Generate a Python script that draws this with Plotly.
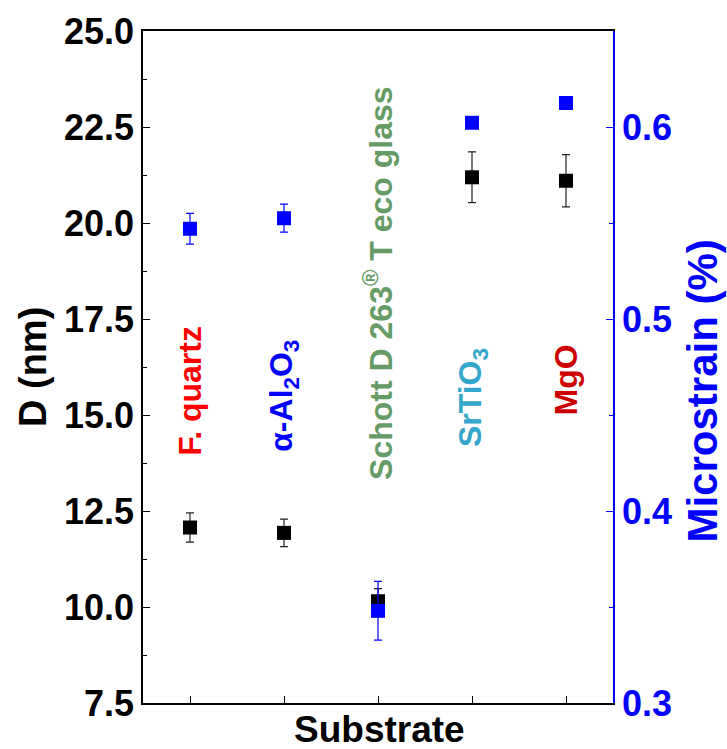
import plotly.graph_objects as go

# Substrates (x positions 1..5) and their label styling
substrates = ["F. quartz", "α-Al<sub>2</sub>O<sub>3</sub>",
              "Schott D 263<sup>®</sup> T eco glass", "SrTiO<sub>3</sub>", "MgO"]
label_colors = ["#FF0000", "#0000FF", "#659B65", "#33A6CC", "#CC0000"]
label_y = [15.63, 15.5, 18.44, 15.44, 15.9]
x_pos = [1, 2, 3, 4, 5]

# Crystallite size D (nm) with errors
D_nm = [12.07, 11.93, 10.15, 21.19, 21.10]
D_err = [0.38, 0.36, 0.33, 0.66, 0.68]

# Microstrain (%) with errors
strain = [0.547, 0.5525, 0.348, 0.6022, 0.6125]
strain_err = [0.008, 0.0073, 0.0153, 0.0015, 0.002]

FONT = "Liberation Sans, Arial, sans-serif"

fig = go.Figure()
fig.add_trace(go.Scatter(
    x=x_pos, y=D_nm, mode="markers", yaxis="y",
    marker=dict(symbol="square", size=14, color="black", line=dict(width=0)),
    error_y=dict(type="data", array=D_err, color="#222222", thickness=1.2, width=4),
    showlegend=False,
))
fig.add_trace(go.Scatter(
    x=x_pos, y=strain, mode="markers", yaxis="y2",
    marker=dict(symbol="square", size=14, color="#0000FF", line=dict(width=0)),
    error_y=dict(type="data", array=strain_err, color="#0000FF", thickness=1.2, width=4),
    showlegend=False,
))

annotations = []
for xi, name, col, yi in zip(x_pos, substrates, label_colors, label_y):
    annotations.append(dict(
        x=xi, y=yi, xref="x", yref="y", text=name, showarrow=False,
        textangle=-90, xanchor="center", yanchor="middle",
        font=dict(family=FONT, size=32, color=col, weight="bold"),
    ))

annotations += [
    dict(x=-0.234, y=0.5, xref="paper", yref="paper", text="D (nm)", showarrow=False,
         textangle=-90, xanchor="center", yanchor="middle",
         font=dict(family=FONT, size=38, color="black", weight="bold")),
    dict(x=1.1915, y=0.4635, xref="paper", yref="paper", text="Microstrain (%)", showarrow=False,
         textangle=-90, xanchor="center", yanchor="middle",
         font=dict(family=FONT, size=42, color="#0000FF", weight="bold")),
    dict(x=0.504, y=-0.039, xref="paper", yref="paper", text="Substrate", showarrow=False,
         xanchor="center", yanchor="middle",
         font=dict(family=FONT, size=37, color="black", weight="bold")),
]

fig.update_layout(
    width=727, height=749,
    margin=dict(l=143, r=114, t=31, b=46),
    plot_bgcolor="white", paper_bgcolor="white",
    annotations=annotations,
    xaxis=dict(
        range=[0.5, 5.5], tickvals=x_pos, showticklabels=False,
        ticks="inside", ticklen=7, tickcolor="black", tickwidth=1.3,
        showline=True, linecolor="black", linewidth=1.5, mirror=True,
        showgrid=False, zeroline=False,
    ),
    yaxis=dict(
        range=[7.5, 25], dtick=2.5, tick0=7.5, tickformat=".1f",
        ticks="inside", ticklen=7, tickcolor="black", tickwidth=1.3,
        minor=dict(dtick=1.25, ticks="inside", ticklen=4, tickcolor="black"),
        showline=True, linecolor="black", linewidth=1.5,
        showgrid=False, zeroline=False,
        tickfont=dict(family=FONT, size=36, color="black", weight="bold"),
    ),
    yaxis2=dict(
        range=[0.3, 0.65], dtick=0.1, tick0=0.3, tickformat=".1f",
        overlaying="y", side="right", anchor="x",
        ticks="inside", ticklen=7, tickcolor="#0000FF", tickwidth=1.3,
        minor=dict(dtick=0.05, ticks="inside", ticklen=4, tickcolor="#0000FF"),
        showline=True, linecolor="#0000FF", linewidth=1.5,
        showgrid=False, zeroline=False,
        tickfont=dict(family=FONT, size=36, color="#0000FF", weight="bold"),
    ),
)

fig.write_html("out.html")
